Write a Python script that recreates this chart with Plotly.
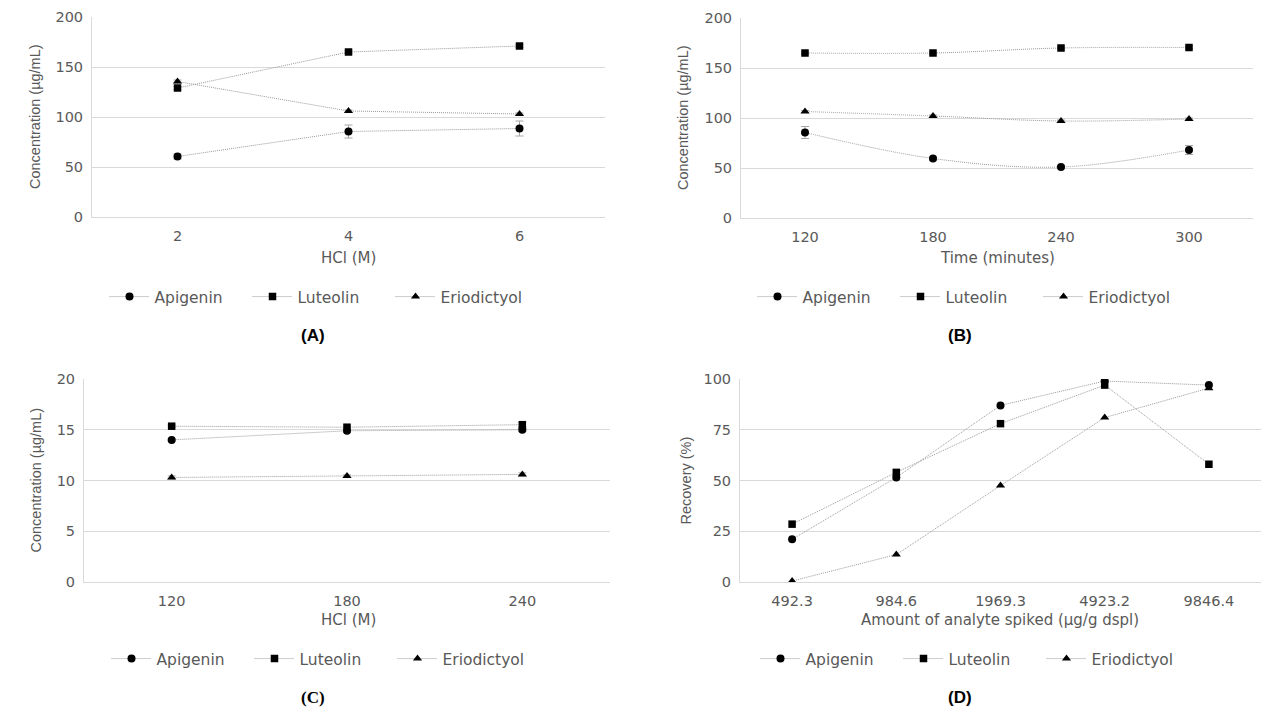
import plotly.graph_objects as go

# ---------------- data ----------------
series_names = ["Apigenin", "Luteolin", "Eriodictyol"]

# Panel A: HCl (M)
a_cats = ["2", "4", "6"]
a_apigenin = [60.5, 85.5, 88.5]
a_apigenin_err = [2.5, 6.5, 7.5]
a_luteolin = [129, 165, 171]
a_luteolin_err = [1.5, 1.5, 1.5]
a_eriodictyol = [135.5, 106, 103]
a_eriodictyol_err = [1.5, 1.0, 1.0]

# Panel B: Time (minutes)
b_cats = ["120", "180", "240", "300"]
b_apigenin = [85.5, 59.5, 51, 68]
b_apigenin_err = [6, 1.5, 1.5, 4.5]
b_luteolin = [165, 165, 170, 170.5]
b_luteolin_err = [1, 1, 1, 1]
b_eriodictyol = [106.5, 102, 97, 99]
b_eriodictyol_err = [1, 1, 1, 1]

# Panel C
c_cats = ["120", "180", "240"]
c_apigenin = [14.0, 14.9, 15.0]
c_apigenin_err = [0.1, 0.15, 0.15]
c_luteolin = [15.35, 15.25, 15.5]
c_luteolin_err = [0.1, 0.2, 0.2]
c_eriodictyol = [10.3, 10.45, 10.6]
c_eriodictyol_err = [0.15, 0.1, 0.15]

# Panel D: recovery
d_cats = ["492.3", "984.6", "1969.3", "4923.2", "9846.4"]
d_apigenin = [21, 51.5, 87, 99, 97]
d_luteolin = [28.5, 54, 78, 97, 58]
d_eriodictyol = [0.5, 13.5, 47.5, 81, 95.5]

# ---------------- style ----------------
W, H = 1280, 720
OFF = 8  # page body margin in the browser
TXT = "#595959"
GRID = "#d9d9d9"
LINE = "#9a9a9a"
FONT = "DejaVu Sans"
VFONT = "Liberation Sans"

symbols = {"Apigenin": ("circle", 8), "Luteolin": ("square", 7.5), "Eriodictyol": ("triangle-up", 8)}


def px(x):
    return (x - OFF) / W


def py(y):
    return 1 - (y - OFF) / H


panels = [
    dict(cats=a_cats, data=[a_apigenin, a_luteolin, a_eriodictyol],
         errs=[a_apigenin_err, a_luteolin_err, a_eriodictyol_err],
         xd=(92, 605), yd=(17, 217), yr=200, dt=50, shape="linear",
         xt="HCl (M)", yt="Concentration (µg/mL)", xtx=348, xty=258, ytx=35,
         lx=319, ly=297, lab="(A)", labx=313, laby=336, labfont="Liberation Sans"),
    dict(cats=b_cats, data=[b_apigenin, b_luteolin, b_eriodictyol],
         errs=[b_apigenin_err, b_luteolin_err, b_eriodictyol_err],
         xd=(741, 1253), yd=(18, 218), yr=200, dt=50, shape="spline",
         xt="Time (minutes)", yt="Concentration (µg/mL)", xtx=997, xty=258, ytx=683,
         lx=967, ly=297, lab="(B)", labx=960, laby=336, labfont="Liberation Sans"),
    dict(cats=c_cats, data=[c_apigenin, c_luteolin, c_eriodictyol],
         errs=[c_apigenin_err, c_luteolin_err, c_eriodictyol_err],
         xd=(84, 610), yd=(379, 582), yr=20, dt=5, shape="linear",
         xt="HCl (M)", yt="Concentration (µg/mL)", xtx=348, xty=620, ytx=35,
         lx=321, ly=659, lab="(C)", labx=313, laby=697, labfont="Liberation Serif"),
    dict(cats=d_cats, data=[d_apigenin, d_luteolin, d_eriodictyol],
         errs=[None, None, None],
         xd=(740, 1261), yd=(379, 582), yr=100, dt=25, shape="linear",
         xt="Amount of analyte spiked (µg/g dspl)", yt="Recovery (%)", xtx=1000, xty=620, ytx=685,
         lx=970, ly=659, lab="(D)", labx=960, laby=697, labfont="Liberation Sans"),
]

fig = go.Figure()
annotations = []
layout = {}

for i, p in enumerate(panels, start=1):
    sfx = "" if i == 1 else str(i)
    legend_name = "legend" if i == 1 else f"legend{i}"
    for name, vals, err in zip(series_names, p["data"], p["errs"]):
        sym, sz = symbols[name]
        tr = dict(
            x=p["cats"], y=vals, name=name, mode="lines+markers",
            line=dict(color=LINE, width=1, dash="1px,1px", shape=p["shape"]),
            marker=dict(symbol=sym, size=sz, color="black"),
            xaxis=f"x{sfx}", yaxis=f"y{sfx}", legend=legend_name,
        )
        if err is not None:
            tr["error_y"] = dict(type="data", array=err, visible=True,
                                 color="#a6a6a6", thickness=1, width=4)
        fig.add_trace(go.Scatter(**tr))

    n = len(p["cats"])
    layout[f"xaxis{sfx}"] = dict(
        domain=[px(p["xd"][0]), px(p["xd"][1])], anchor=f"y{sfx}",
        type="category", range=[-0.5, n - 0.5], automargin=False,
        showgrid=False, showline=True, linecolor=GRID, linewidth=1,
        ticks="", ticklabelstandoff=6,
        tickfont=dict(family=FONT, size=14.5, color=TXT), zeroline=False,
    )
    layout[f"yaxis{sfx}"] = dict(
        domain=[py(p["yd"][1]), py(p["yd"][0])], anchor=f"x{sfx}",
        range=[0, p["yr"]], dtick=p["dt"], tick0=0, automargin=False,
        showgrid=True, gridcolor=GRID, gridwidth=1,
        showline=True, linecolor=GRID, linewidth=1,
        ticks="", ticklabelstandoff=5, zeroline=False,
        tickfont=dict(family=FONT, size=14.5, color=TXT),
    )
    layout[legend_name] = dict(
        orientation="h", x=px(p["lx"]), y=py(p["ly"]), xanchor="center", yanchor="middle",
        font=dict(family=FONT, size=15.5, color=TXT), bgcolor="rgba(0,0,0,0)",
        itemwidth=40, entrywidth=88, entrywidthmode="pixels",
        itemclick=False, itemdoubleclick=False,
    )
    annotations.append(dict(text=p["xt"], x=px(p["xtx"]), y=py(p["xty"]), xref="paper", yref="paper",
                            showarrow=False, xanchor="center", yanchor="middle",
                            font=dict(family=FONT, size=15, color=TXT)))
    annotations.append(dict(text=p["yt"], x=px(p["ytx"]), y=py((p["yd"][0] + p["yd"][1]) / 2),
                            xref="paper", yref="paper", textangle=-90,
                            showarrow=False, xanchor="center", yanchor="middle",
                            font=dict(family=VFONT, size=14.5, color=TXT)))
    annotations.append(dict(text=f"<b>{p['lab']}</b>", x=px(p["labx"]), y=py(p["laby"]),
                            xref="paper", yref="paper", showarrow=False,
                            xanchor="center", yanchor="middle",
                            font=dict(family=p["labfont"], size=17, color="black")))

fig.update_layout(
    width=W, height=H, margin=dict(l=0, r=0, t=0, b=0, autoexpand=False),
    paper_bgcolor="white", plot_bgcolor="white",
    showlegend=True, annotations=annotations, **layout,
)

fig.write_html("out.html")
